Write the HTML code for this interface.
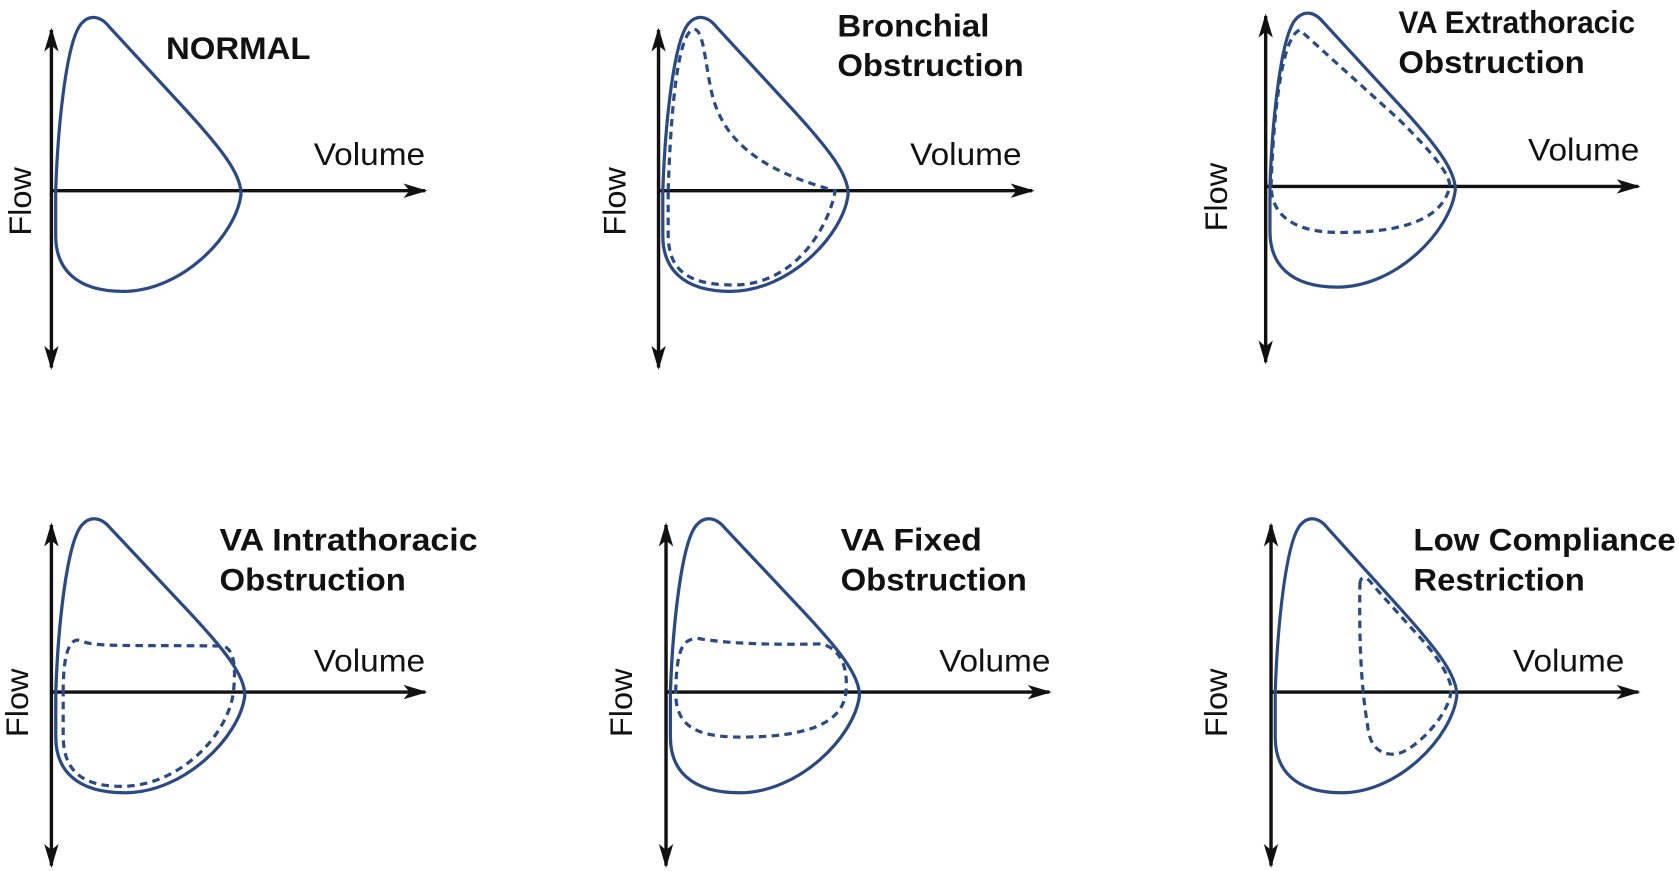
<!DOCTYPE html>
<html><head><style>body{margin:0;background:#fff}svg{display:block}</style></head><body>
<svg width="1679" height="871" viewBox="0 0 1568 813" preserveAspectRatio="none" xmlns="http://www.w3.org/2000/svg">
<defs>
<marker id="a" viewBox="0 0 20 12" refX="18" refY="6" markerWidth="7" markerHeight="4.5" orient="auto-start-reverse" markerUnits="strokeWidth"><path d="M0,0 L20,6 L0,12 L5,6 Z" fill="#111"/></marker>
<path id="L" d="M4,0 C6,-60 14,-140 28,-156 C36,-165 46,-163 54,-153 L125,-76 C158,-40 178,-15 177,4 C172,42 122,94 67,94 C22,94 4,72 4,42 Z"/>
</defs>
<style>
.ax{stroke:#111;stroke-width:3.2;fill:none}
.s{fill:none;stroke:#2c4a82;stroke-width:3}
.d{fill:none;stroke:#2c4a82;stroke-width:3;stroke-dasharray:7,5}
text{font-family:"Liberation Sans",sans-serif;fill:#111}
.t{font-weight:bold;font-size:29px}
.v{font-size:29px}
</style>
<!-- P1 -->
<g transform="translate(48,178)">
<line class="ax" x1="0" y1="165" x2="0" y2="-150" marker-start="url(#a)" marker-end="url(#a)"/>
<line class="ax" x1="0" y1="0" x2="349" y2="0" marker-end="url(#a)"/>
<use href="#L" class="s"/>
</g>
<text class="t" x="155" y="55" textLength="135" lengthAdjust="spacingAndGlyphs">NORMAL</text>
<text class="v" x="293" y="154" textLength="104" lengthAdjust="spacingAndGlyphs">Volume</text>
<text class="v" transform="translate(29,188) rotate(-90)" text-anchor="middle" textLength="64" lengthAdjust="spacingAndGlyphs">Flow</text>
<!-- P2 -->
<g transform="translate(615,178)">
<line class="ax" x1="0" y1="165" x2="0" y2="-150" marker-start="url(#a)" marker-end="url(#a)"/>
<line class="ax" x1="0" y1="0" x2="349" y2="0" marker-end="url(#a)"/>
<use href="#L" class="s"/>
<path class="d" d="M9,0 C11,-60 16,-140 31,-150 C42,-156 43,-120 50,-90 C60,-50 90,-20 165,0 C160,30 130,88 70,88 C22,88 9,70 9,40 Z"/>
</g>
<text class="t" x="782" y="34" textLength="142" lengthAdjust="spacingAndGlyphs">Bronchial</text>
<text class="t" x="782" y="71" textLength="174" lengthAdjust="spacingAndGlyphs">Obstruction</text>
<text class="v" x="850" y="154" textLength="104" lengthAdjust="spacingAndGlyphs">Volume</text>
<text class="v" transform="translate(584,188) rotate(-90)" text-anchor="middle" textLength="64" lengthAdjust="spacingAndGlyphs">Flow</text>
<!-- P3 -->
<g transform="translate(1182,174)">
<line class="ax" x1="0" y1="164" x2="0" y2="-159" marker-start="url(#a)" marker-end="url(#a)"/>
<line class="ax" x1="0" y1="0" x2="348" y2="0" marker-end="url(#a)"/>
<use href="#L" class="s"/>
<path class="d" d="M5,0 C7,-60 14,-140 32,-146 L125,-62 C155,-32 172,-12 172,0 C165,30 130,43 70,43 C30,43 6,30 5,0"/>
</g>
<text class="t" x="1306" y="31" textLength="221" lengthAdjust="spacingAndGlyphs">VA Extrathoracic</text>
<text class="t" x="1306" y="68" textLength="174" lengthAdjust="spacingAndGlyphs">Obstruction</text>
<text class="v" x="1427" y="150" textLength="104" lengthAdjust="spacingAndGlyphs">Volume</text>
<text class="v" transform="translate(1146,184) rotate(-90)" text-anchor="middle" textLength="64" lengthAdjust="spacingAndGlyphs">Flow</text>
<!-- P4 -->
<g transform="translate(48,646)">
<line class="ax" x1="0" y1="162" x2="0" y2="-156" marker-start="url(#a)" marker-end="url(#a)"/>
<line class="ax" x1="0" y1="0" x2="349" y2="0" marker-end="url(#a)"/>
<use href="#L" class="s" transform="scale(1.02,1)"/>
<path class="d" d="M11,0 C11,-30 15,-55 30,-47 C42,-42 80,-44 160,-43 C172,-40 172,-20 170,0 C165,40 120,88 65,88 C20,88 11,65 11,40 Z"/>
</g>
<text class="t" x="205" y="514" textLength="241" lengthAdjust="spacingAndGlyphs">VA Intrathoracic</text>
<text class="t" x="205" y="551" textLength="174" lengthAdjust="spacingAndGlyphs">Obstruction</text>
<text class="v" x="293" y="627" textLength="104" lengthAdjust="spacingAndGlyphs">Volume</text>
<text class="v" transform="translate(26,656) rotate(-90)" text-anchor="middle" textLength="64" lengthAdjust="spacingAndGlyphs">Flow</text>
<!-- P5 -->
<g transform="translate(622,646)">
<line class="ax" x1="0" y1="162" x2="0" y2="-156" marker-start="url(#a)" marker-end="url(#a)"/>
<line class="ax" x1="0" y1="0" x2="358" y2="0" marker-end="url(#a)"/>
<use href="#L" class="s" transform="scale(1.02,1)"/>
<path class="d" d="M9,0 C10,-40 15,-50 30,-50 C60,-45 100,-44 145,-45 C165,-40 170,-20 168,0 C165,30 130,42 70,42 C25,42 9,30 9,0 Z"/>
</g>
<text class="t" x="785" y="514" textLength="132" lengthAdjust="spacingAndGlyphs">VA Fixed</text>
<text class="t" x="785" y="551" textLength="174" lengthAdjust="spacingAndGlyphs">Obstruction</text>
<text class="v" x="877" y="627" textLength="104" lengthAdjust="spacingAndGlyphs">Volume</text>
<text class="v" transform="translate(590,656) rotate(-90)" text-anchor="middle" textLength="64" lengthAdjust="spacingAndGlyphs">Flow</text>
<!-- P6 -->
<g transform="translate(1187,646)">
<line class="ax" x1="0" y1="162" x2="0" y2="-156" marker-start="url(#a)" marker-end="url(#a)"/>
<line class="ax" x1="0" y1="0" x2="343" y2="0" marker-end="url(#a)"/>
<use href="#L" class="s" transform="scale(0.98,1)"/>
<path class="d" d="M83,-100 C83,-110 90,-108 95,-100 L140,-50 C160,-28 170,-8 168,0 C165,25 130,58 115,58 C100,58 92,50 90,30 C85,0 82,-40 83,-100 Z"/>
</g>
<text class="t" x="1320" y="514" textLength="245" lengthAdjust="spacingAndGlyphs">Low Compliance</text>
<text class="t" x="1320" y="551" textLength="160" lengthAdjust="spacingAndGlyphs">Restriction</text>
<text class="v" x="1413" y="627" textLength="104" lengthAdjust="spacingAndGlyphs">Volume</text>
<text class="v" transform="translate(1146,656) rotate(-90)" text-anchor="middle" textLength="64" lengthAdjust="spacingAndGlyphs">Flow</text>
</svg>
</body></html>
